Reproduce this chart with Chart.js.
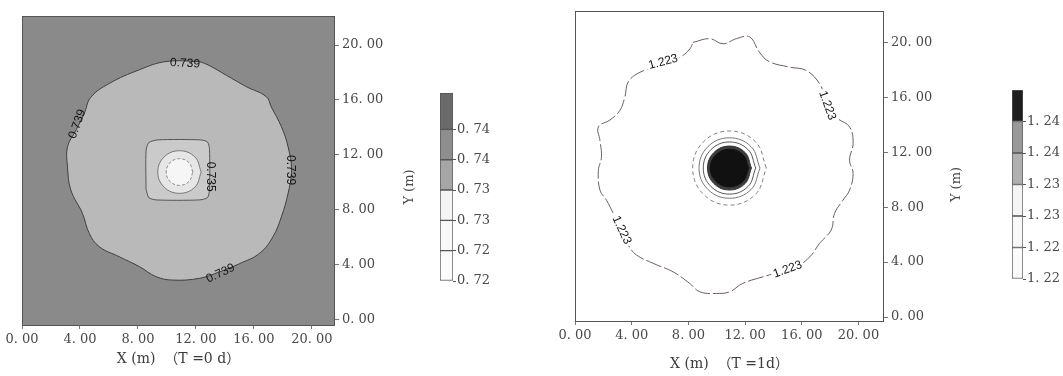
<!DOCTYPE html>
<html>
<head>
<meta charset="utf-8">
<script src="https://cdn.jsdelivr.net/npm/chart.js@4.4.1/dist/chart.umd.min.js"></script>
<style>
  html, body { margin: 0; padding: 0; background: #fff; }
  #wrap { position: relative; width: 1063px; height: 376px; overflow: hidden; }
  .box { position: absolute; top: 0; height: 376px; }
</style>
</head>
<body>
<div id="wrap">
  <div class="box" style="left:0;width:400px"><canvas id="mainL"></canvas></div>
  <div class="box" style="left:395px;width:110px"><canvas id="barL"></canvas></div>
  <div class="box" style="left:540px;width:410px"><canvas id="mainR"></canvas></div>
  <div class="box" style="left:945px;width:118px"><canvas id="barR"></canvas></div>
</div>
<script>
// axis ticks (m)
var xTicks = [0, 4, 8, 12, 16, 20];
var yTicks = [0, 4, 8, 12, 16, 20];

// T = 0 d : contour 0.739 (outer wavy line)
var contour739 = [
  [12.25, 18.8], [9.94, 18.8], [8.1, 18.2], [6.02, 17.2], [4.75, 16.2], [4.29, 15.0],
  [3.72, 13.8], [3.14, 12.6], [3.14, 11.15], [3.37, 9.45], [4.17, 7.76], [4.64, 6.3],
  [5.33, 5.33], [6.71, 4.6], [8.1, 3.88], [9.25, 3.15], [10.4, 2.9], [12.25, 3.03],
  [13.63, 3.5], [15.02, 4.1], [16.4, 4.85], [17.32, 6.06], [17.9, 7.5], [18.36, 9.2],
  [18.6, 10.9], [18.36, 12.6], [17.9, 14.06], [17.2, 15.5], [16.86, 16.24], [15.48, 16.97],
  [14.1, 17.8], [12.94, 18.5], [12.25, 18.8]
];
// T = 0 d : contour 0.735 (rounded square round the well)
var contour735 = [
  [8.56, 9.5], [8.56, 12.3], [8.75, 12.9], [9.4, 13.1], [12.3, 13.1], [12.8, 12.95],
  [12.94, 12.4], [12.94, 9.5], [12.8, 8.9], [12.2, 8.73], [9.3, 8.73], [8.75, 8.9], [8.56, 9.5]
];
// T = 0 d : inner rings
var ringL1 = [
  [12.37, 10.76], [11.93, 11.86], [10.87, 12.31], [9.81, 11.86], [9.37, 10.76],
  [9.81, 9.66], [10.87, 9.21], [11.93, 9.66], [12.37, 10.76]
];
var ringL2 = [
  [11.79, 10.76], [11.52, 11.45], [10.87, 11.73], [10.22, 11.45], [9.95, 10.76],
  [10.22, 10.07], [10.87, 9.79], [11.52, 10.07], [11.79, 10.76]
];

// T = 1 d : contour 1.223 (outer wavy line)
var contour1223 = [
  [8.33, 20.0], [9.5, 20.27], [10.45, 19.9], [11.39, 20.27], [12.32, 20.4], [13.0, 19.3],
  [13.7, 18.6], [15.15, 18.2], [16.32, 17.95], [17.25, 17.0], [17.73, 15.8], [18.44, 14.55],
  [19.37, 13.85], [19.62, 12.66], [19.37, 11.43], [19.62, 10.47], [19.37, 9.24], [18.9, 8.5],
  [18.31, 7.54], [18.07, 6.33], [17.25, 5.36], [16.56, 4.38], [15.61, 3.66], [14.43, 3.29],
  [13.26, 2.93], [11.83, 2.45], [10.91, 1.84], [9.96, 1.72], [8.8, 1.84], [8.09, 2.45],
  [6.92, 3.29], [5.52, 3.91], [4.34, 4.52], [3.76, 5.24], [3.17, 6.57], [2.7, 7.54],
  [2.23, 8.5], [1.76, 9.24], [1.65, 10.67], [1.87, 11.67], [1.76, 12.86], [1.65, 13.85],
  [2.47, 14.35], [3.16, 15.04], [3.52, 16.03], [3.76, 17.13], [4.58, 17.82], [6.21, 18.42],
  [7.4, 18.91], [8.09, 19.51], [8.33, 20.0]
];
// T = 1 d : rings round the well
var ringR1 = [
  [12.25, 10.85], [11.86, 11.81], [10.9, 12.22], [9.94, 11.81], [9.55, 10.85],
  [9.94, 9.89], [10.9, 9.48], [11.86, 9.89], [12.25, 10.85]
];
var ringR2 = [
  [12.45, 10.85], [12.0, 11.98], [10.9, 12.45], [9.8, 11.98], [9.35, 10.85],
  [9.8, 9.72], [10.9, 9.25], [12.0, 9.72], [12.45, 10.85]
];
var ringR3 = [
  [12.75, 10.85], [12.21, 12.19], [10.9, 12.75], [9.59, 12.19], [9.05, 10.85],
  [9.59, 9.51], [10.9, 8.95], [12.21, 9.51], [12.75, 10.85]
];
var ringR4 = [
  [13.05, 10.85], [12.42, 12.41], [10.9, 13.05], [9.38, 12.41], [8.75, 10.85],
  [9.38, 9.29], [10.9, 8.65], [12.42, 9.29], [13.05, 10.85]
];
var ringR5 = [
  [13.5, 10.85], [12.74, 12.76], [10.9, 13.55], [9.06, 12.76], [8.3, 10.85],
  [9.06, 8.94], [10.9, 8.15], [12.74, 8.94], [13.5, 10.85]
];

// contour labels: [x, y, angle, text]
var labelsL = [
  [11.25, 18.66, 3, '0.739'], [3.82, 14.25, -70, '0.739'], [18.55, 10.9, 90, '0.739'],
  [13.7, 3.39, -25, '0.739'], [13.0, 10.42, 90, '0.735']
];
var labelsR = [
  [6.22, 18.57, -15, '1.223'], [17.8, 15.4, 70, '1.223'],
  [3.29, 6.33, 65, '1.223'], [15.0, 3.47, -20, '1.223']
];

// colour bars (bottom to top)
var barLabelsL = ['0.72', '0.72', '0.73', '0.73', '0.74', '0.74'];
var barSpansL = [1, 1, 1, 1, 1, 1.2];
var barLabelsR = ['1.22', '1.22', '1.23', '1.23', '1.24', '1.24'];
var barSpansR = [1, 1, 1, 1, 1, 1];

var tickFont = { family: "'DejaVu Serif', 'Liberation Serif', serif", size: 13 };
var titleFont = { family: "'DejaVu Serif', 'Liberation Serif', 'Noto Sans CJK SC', serif", size: 14 };

function fmt(s) { return String(s).replace('.', '. '); }
function pts(a) { return a.map(function (p) { return { x: p[0], y: p[1] }; }); }

function line(a, o) {
  return Object.assign({
    data: pts(a), showLine: true, pointRadius: 0, borderWidth: 1,
    tension: 0.4, fill: false
  }, o);
}

var areaBg = {
  id: 'areaBg',
  beforeDatasetsDraw: function (chart, args, opts) {
    var a = chart.chartArea, ctx = chart.ctx;
    ctx.save();
    ctx.fillStyle = opts.color;
    ctx.fillRect(a.left, a.top, a.right - a.left, a.bottom - a.top);
    ctx.restore();
  }
};

var frame = {
  id: 'frame',
  afterDraw: function (chart, args, opts) {
    var a = chart.chartArea, ctx = chart.ctx;
    ctx.save();
    ctx.strokeStyle = opts.color;
    ctx.lineWidth = 1;
    ctx.strokeRect(Math.round(a.left) + 0.5, Math.round(a.top) + 0.5,
      Math.round(a.right - a.left) - 1, Math.round(a.bottom - a.top) - 1);
    ctx.restore();
  }
};

var contourText = {
  id: 'contourText',
  afterDatasetsDraw: function (chart, args, opts) {
    var ctx = chart.ctx, xs = chart.scales.x, ys = chart.scales.y;
    ctx.save();
    ctx.font = "12px 'Liberation Sans Narrow', 'Liberation Sans', sans-serif";
    ctx.textAlign = 'center';
    ctx.textBaseline = 'middle';
    opts.items.forEach(function (l) {
      var px = xs.getPixelForValue(l[0]), py = ys.getPixelForValue(l[1]);
      ctx.save();
      ctx.translate(px, py);
      ctx.rotate(l[2] * Math.PI / 180);
      var w = ctx.measureText(l[3]).width;
      if (opts.bg) {
        ctx.fillStyle = opts.bg;
        ctx.fillRect(-w / 2 - 2, -6, w + 4, 12);
      }
      ctx.fillStyle = '#151515';
      ctx.fillText(l[3], 0, 0);
      ctx.restore();
    });
    ctx.restore();
  }
};

function mainChart(id, p) {
  return new Chart(document.getElementById(id), {
    type: 'scatter',
    data: { datasets: p.datasets },
    options: {
      responsive: true, maintainAspectRatio: false, animation: false, events: [],
      layout: { padding: { left: p.padLeft, top: p.padTop, right: 0, bottom: 0 } },
      plugins: {
        legend: { display: false }, tooltip: { enabled: false },
        areaBg: { color: p.bg }, frame: { color: '#555' },
        contourText: { items: p.labels, bg: p.labelBg }
      },
      scales: {
        x: {
          type: 'linear', min: p.xMin, max: p.xMax,
          afterBuildTicks: function (s) { s.ticks = xTicks.map(function (v) { return { value: v }; }); },
          afterFit: function (s) { s.height = p.xAxisH; },
          grid: { drawOnChartArea: false, tickLength: 3, color: '#777' },
          border: { display: false },
          ticks: { font: tickFont, color: '#4a4a4a', padding: 3, maxRotation: 0, autoSkip: false,
            callback: function (v) { return fmt(v.toFixed(2)); } },
          title: { display: true, text: p.xTitle, font: titleFont, color: '#3a3a3a',
            padding: { top: 0, bottom: p.titlePad } }
        },
        y: {
          type: 'linear', position: 'right', min: p.yMin, max: p.yMax,
          afterBuildTicks: function (s) { s.ticks = yTicks.map(function (v) { return { value: v }; }); },
          afterFit: function (s) { s.width = p.yAxisW; },
          grid: { drawOnChartArea: false, tickLength: 4, color: '#777' },
          border: { display: false },
          ticks: { font: tickFont, color: '#4a4a4a', padding: 3, autoSkip: false,
            callback: function (v) { return fmt(v.toFixed(2)); } }
        }
      }
    },
    plugins: [areaBg, frame, contourText]
  });
}

function barChart(id, p) {
  var total = p.spans.reduce(function (s, v) { return s + v; }, 0);
  var datasets = p.spans.map(function (s, i) {
    return { data: [s], backgroundColor: p.colors[i], borderColor: '#555', borderWidth: 1,
      barPercentage: 1, categoryPercentage: 1, borderSkipped: false, yAxisID: 'y' };
  });
  return new Chart(document.getElementById(id), {
    type: 'bar',
    data: { labels: [''], datasets: datasets },
    options: {
      responsive: true, maintainAspectRatio: false, animation: false, events: [],
      layout: { padding: { top: p.top, bottom: p.bottom, left: 0, right: 0 } },
      plugins: { legend: { display: false }, tooltip: { enabled: false } },
      scales: {
        x: { display: false, stacked: true },
        y: {
          position: 'right', stacked: true, min: 0, max: total,
          afterBuildTicks: function (s) { s.ticks = p.labels.map(function (t, i) { return { value: i }; }); },
          afterFit: function (s) { s.width = p.rightW; },
          grid: { drawOnChartArea: false, tickLength: 3, color: '#555' },
          border: { display: false },
          ticks: { font: tickFont, color: '#4a4a4a', padding: 1, autoSkip: false,
            callback: function (v, i) { return fmt(p.labels[i]); } }
        },
        yT: {
          position: 'left', min: 0, max: 1,
          afterFit: function (s) { s.width = p.leftW; },
          grid: { display: false }, border: { display: false }, ticks: { display: false },
          title: { display: true, text: 'Y (m)', font: tickFont, color: '#4a4a4a',
            padding: { top: p.titlePad, bottom: 0 } }
        }
      }
    }
  });
}

mainChart('mainL', {
  padLeft: 22, padTop: 16, xAxisH: 50, yAxisW: 65, titlePad: 8,
  xMin: 0, xMax: 21.6, yMin: -0.44, yMax: 22.11,
  bg: '#8a8a8a', labels: labelsL, labelBg: null,
  xTitle: 'X (m)  \uFF08T =0 d\uFF09',
  datasets: [
    line(ringL2, { fill: 'shape', backgroundColor: '#f6f6f6', borderColor: '#8a8a8a', borderDash: [3, 2] }),
    line(ringL1, { fill: 'shape', backgroundColor: '#e6e6e6', borderColor: '#777' }),
    line(contour735, { fill: 'shape', backgroundColor: '#cacaca', borderColor: '#555', tension: 0.25 }),
    line(contour739, { fill: 'shape', backgroundColor: '#b9b9b9', borderColor: '#3f3f3f' })
  ]
});

mainChart('mainR', {
  padLeft: 35, padTop: 10, xAxisH: 54, yAxisW: 66, titlePad: 3,
  xMin: 0, xMax: 21.8, yMin: -0.36, yMax: 22.3,
  bg: '#ffffff', labels: labelsR, labelBg: '#ffffff',
  xTitle: 'X (m)  \uFF08T =1d\uFF09',
  datasets: [
    line(ringR1, { fill: 'shape', backgroundColor: '#111', borderColor: '#111' }),
    line(ringR2, { fill: 'shape', backgroundColor: '#3c3c3c', borderColor: '#333' }),
    line(ringR3, { borderColor: '#555' }),
    line(ringR4, { borderColor: '#777' }),
    line(ringR5, { borderColor: '#8a8080', borderDash: [4, 3] }),
    line(contour1223, { borderColor: '#6b6060', borderDash: [16, 3] })
  ]
});

barChart('barL', {
  top: 93, bottom: 95, leftW: 45, rightW: 52, titlePad: 7,
  spans: barSpansL, labels: barLabelsL,
  colors: ['#fbfbfb', '#f8f8f8', '#f5f5f5', '#a6a6a6', '#8e8e8e', '#6a6a6a']
});

barChart('barR', {
  top: 90, bottom: 97, leftW: 67, rightW: 40, titlePad: 4,
  spans: barSpansR, labels: barLabelsR,
  colors: ['#fbfbfb', '#f8f8f8', '#f5f5f5', '#b0b0b0', '#999999', '#1e1e1e']
});
</script>
</body>
</html>
